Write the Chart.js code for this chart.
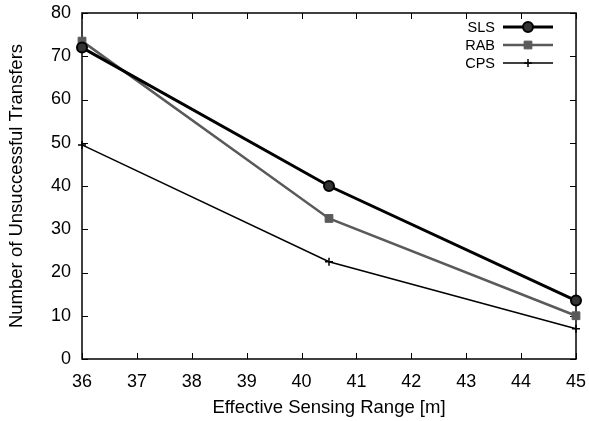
<!DOCTYPE html>
<html>
<head>
<meta charset="utf-8">
<script src="https://cdn.jsdelivr.net/npm/chart.js@4/dist/chart.umd.min.js"></script>
<style>
  html, body { margin: 0; padding: 0; background: #fff; }
  #wrap { width: 589px; height: 421px; }
</style>
</head>
<body>
<div id="wrap"><canvas id="chart" width="589" height="421"></canvas></div>
<script>
// effective sensing range [m]
var ranges = [36, 40.5, 45];
var sls = [72, 40, 13.5];
var rab = [73.5, 32.5, 10];
var cps = [49.5, 22.5, 7];
var xTicks = [36, 37, 38, 39, 40, 41, 42, 43, 44, 45];
var yTicks = [0, 10, 20, 30, 40, 50, 60, 70, 80];

function pts(vals) {
  return vals.map(function(v, i) { return { x: ranges[i], y: v }; });
}

var series = [
  { label: 'SLS', data: pts(sls), borderColor: '#000', borderWidth: 3,
    pointStyle: 'circle', pointRadius: 5, pointBackgroundColor: '#333', pointBorderColor: '#000', pointBorderWidth: 2 },
  { label: 'RAB', data: pts(rab), borderColor: '#5a5a5a', borderWidth: 2.5,
    pointStyle: 'rect', pointRadius: 5.5, pointBackgroundColor: '#5a5a5a', pointBorderColor: '#5a5a5a', pointBorderWidth: 1 },
  { label: 'CPS', data: pts(cps), borderColor: '#000', borderWidth: 1.5,
    pointStyle: 'cross', pointRadius: 4, pointBackgroundColor: '#000', pointBorderColor: '#000', pointBorderWidth: 1.5 }
];

// frame + inward ticks on all four sides, gnuplot style
var frame = {
  id: 'frame',
  beforeDatasetsDraw: function(chart) {
    var ctx = chart.ctx, a = chart.chartArea;
    var xs = chart.scales.x, ys = chart.scales.y;
    ctx.save();
    ctx.strokeStyle = '#000';
    ctx.lineWidth = 1;
    ctx.beginPath();
    xTicks.forEach(function(t) {
      var px = Math.round(xs.getPixelForValue(t)) + 0.5;
      ctx.moveTo(px, a.bottom); ctx.lineTo(px, a.bottom - 6);
      ctx.moveTo(px, a.top); ctx.lineTo(px, a.top + 6);
    });
    yTicks.forEach(function(t) {
      var py = Math.round(ys.getPixelForValue(t)) + 0.5;
      ctx.moveTo(a.left, py); ctx.lineTo(a.left + 6, py);
      ctx.moveTo(a.right, py); ctx.lineTo(a.right - 6, py);
    });
    ctx.stroke();
    ctx.lineWidth = 1.5;
    ctx.strokeRect(a.left, a.top, a.right - a.left, a.bottom - a.top);
    ctx.restore();
  },
  afterDatasetsDraw: function(chart) {
    // legend, top right inside the plot
    var ctx = chart.ctx;
    var rowsY = [27, 45, 63];
    ctx.save();
    ctx.font = '14.5px "Liberation Sans", Arial, sans-serif';
    ctx.textAlign = 'right';
    ctx.textBaseline = 'middle';
    series.forEach(function(s, i) {
      var y = rowsY[i];
      ctx.fillStyle = '#000';
      ctx.fillText(s.label, 495, y + 1);
      ctx.strokeStyle = s.borderColor;
      ctx.lineWidth = s.borderWidth;
      ctx.beginPath();
      ctx.moveTo(503, y); ctx.lineTo(553, y);
      ctx.stroke();
      ctx.fillStyle = s.pointBackgroundColor;
      ctx.strokeStyle = s.pointBorderColor;
      ctx.lineWidth = s.pointBorderWidth;
      Chart.helpers.drawPoint(ctx, { pointStyle: s.pointStyle, radius: s.pointRadius, borderWidth: s.pointBorderWidth, rotation: 0 }, 528, y);
    });
    ctx.restore();
  }
};

var font = '"Liberation Sans", Arial, sans-serif';

function noPad(sc) {
  sc.paddingLeft = 0; sc.paddingRight = 0; sc.paddingTop = 0; sc.paddingBottom = 0;
}

new Chart(document.getElementById('chart'), {
  type: 'line',
  data: { datasets: series.map(function(s) {
    return Object.assign({ fill: false, tension: 0, clip: false }, s);
  }) },
  options: {
    responsive: false,
    animation: false,
    layout: { padding: { top: 13, right: 13, left: 0, bottom: 0 } },
    plugins: { legend: { display: false }, tooltip: { enabled: false } },
    scales: {
      x: {
        type: 'linear', min: 36, max: 45,
        afterBuildTicks: function(sc) { sc.ticks = xTicks.map(function(v) { return { value: v }; }); },
        afterFit: function(sc) { sc.height = 62; noPad(sc); },
        grid: { display: false, drawTicks: false },
        border: { display: false },
        ticks: { color: '#000', font: { family: font, size: 18 }, padding: 12, maxRotation: 0, autoSkip: false },
        title: { display: true, text: 'Effective Sensing Range [m]', color: '#000', font: { family: font, size: 18.5 }, padding: { top: 0, bottom: 2 } }
      },
      y: {
        min: 0, max: 80,
        afterBuildTicks: function(sc) { sc.ticks = yTicks.map(function(v) { return { value: v }; }); },
        afterFit: function(sc) { sc.width = 82; noPad(sc); },
        grid: { display: false, drawTicks: false },
        border: { display: false },
        ticks: { color: '#000', font: { family: font, size: 18 }, padding: 11 },
        title: { display: true, text: 'Number of Unsuccessful Transfers', color: '#000', font: { family: font, size: 18.5 }, padding: { top: 6, bottom: 0 } }
      }
    }
  },
  plugins: [frame]
});
</script>
</body>
</html>
